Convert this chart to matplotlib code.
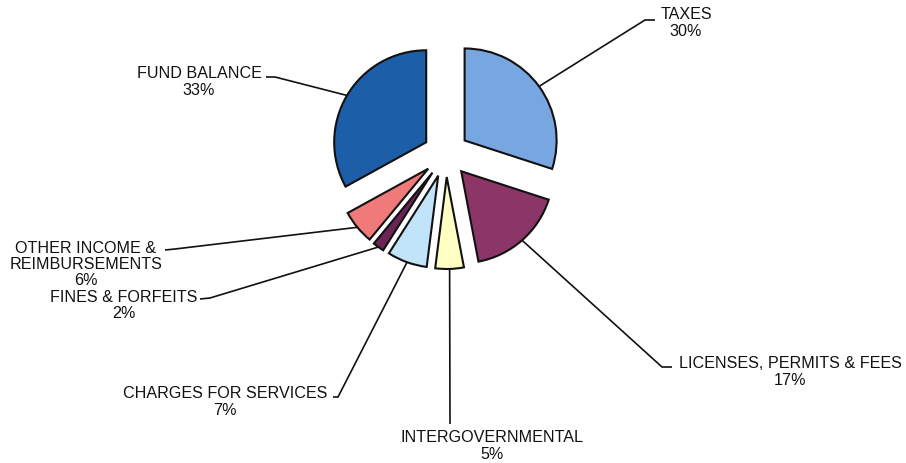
import matplotlib
matplotlib.use("Agg")
import matplotlib.pyplot as plt
import numpy as np

# Revenue sources (percent of total)
categories = ["TAXES", "LICENSES, PERMITS & FEES", "INTERGOVERNMENTAL",
              "CHARGES FOR SERVICES", "FINES & FORFEITS",
              "OTHER INCOME &\nREIMBURSEMENTS", "FUND BALANCE"]
shares = [30, 17, 5, 7, 2, 6, 33]
colors = ["#78a6e0", "#8c3567", "#ffffc4", "#c2e4fa", "#6a2456", "#f07a7a", "#1c5fa8"]

W, H = 906, 464
fig = plt.figure(figsize=(W / 100, H / 100), dpi=100)
ax = fig.add_axes([0, 0, 1, 1])

# explode offsets are in data units (pixels here)
wedges, _ = ax.pie(shares, colors=colors, startangle=90, counterclock=False,
                   center=(446, 309), radius=92, explode=[23] * len(shares),
                   wedgeprops=dict(edgecolor="#111111", linewidth=1.5), frame=True)
ax.set_xlim(0, W)
ax.set_ylim(0, H)
ax.set_aspect("equal")
ax.axis("off")

# label block centers, leader elbow and leader end (pixel layout, y up)
label_xy = [(686, 441), (790, 92), (492, 18), (225, 62), (124, 158.5), (86, 199.5), (199, 382)]
elbow = [(645, 443), (662, 96), (450, 39), (338, 66), (210, 165), (175, 214), (275, 386)]
tail = [(655, 443), (672, 96), (450, 39), (333, 66), (200, 164), (165, 213), (266, 386)]

for w, name, val, lxy, e, t in zip(wedges, categories, shares, label_xy, elbow, tail):
    mid = np.deg2rad((w.theta1 + w.theta2) / 2)
    cx, cy = w.center
    sx, sy = cx + w.r * np.cos(mid), cy + w.r * np.sin(mid)
    ax.plot([sx, e[0], t[0]], [sy, e[1], t[1]], color="#111111", lw=1.2,
            solid_capstyle="butt")
    ax.text(lxy[0], lxy[1], f"{name}\n{val}%", ha="center", va="center",
            multialignment="center", fontsize=11.6, family="Liberation Sans",
            color="#111111", linespacing=1.1)

fig.savefig("out.png", dpi=100)
